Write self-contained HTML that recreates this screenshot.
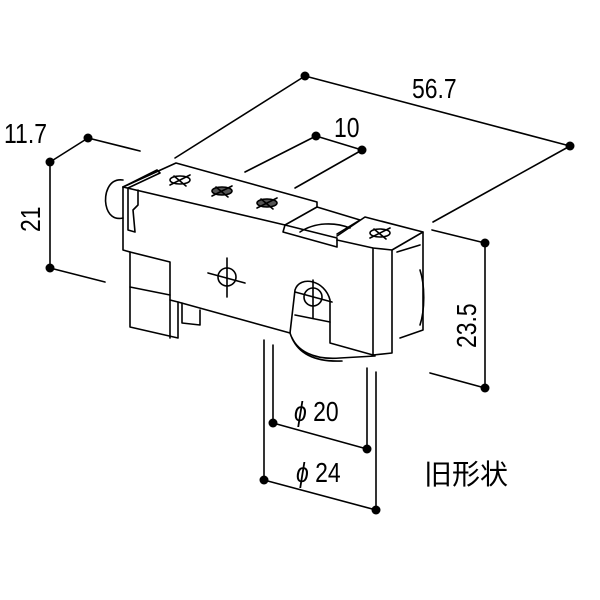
<!DOCTYPE html>
<html><head><meta charset="utf-8"><style>html,body{margin:0;padding:0;background:#fff}svg{display:block}</style></head><body>
<svg width="600" height="600" viewBox="0 0 600 600" xmlns="http://www.w3.org/2000/svg">
<rect width="600" height="600" fill="#fff"/>
<g stroke="#000" stroke-width="1.6" fill="none" stroke-linecap="round" stroke-linejoin="round">
<line x1="305" y1="76" x2="570" y2="146"/>
<line x1="305" y1="76" x2="175" y2="158"/>
<line x1="570" y1="146" x2="433" y2="222"/>
<line x1="316" y1="136" x2="362" y2="150"/>
<line x1="316" y1="136" x2="245" y2="172"/>
<line x1="362" y1="150" x2="295" y2="188"/>
<line x1="50" y1="162" x2="88" y2="138"/>
<line x1="88" y1="138" x2="140" y2="151"/>
<line x1="50" y1="162" x2="50" y2="268"/>
<line x1="50" y1="268" x2="105" y2="282"/>
<line x1="485" y1="243" x2="485" y2="388"/>
<line x1="485" y1="243" x2="432" y2="230"/>
<line x1="485" y1="388" x2="430" y2="373"/>
<line x1="273" y1="345" x2="273" y2="423"/>
<line x1="367" y1="368" x2="367" y2="449"/>
<line x1="273" y1="423" x2="367" y2="449"/>
<line x1="264" y1="340" x2="264" y2="480"/>
<line x1="376" y1="372" x2="376" y2="510"/>
<line x1="264" y1="480" x2="376" y2="510"/>
<path d="M123,180 C108,178 104,195 106,205 C108,215 114,220 123,218"/>
<path d="M123,187 L176,163 L317,202 L317,207"/>
<path d="M123,187 L285,225"/>
<path d="M123,187 L157,170 L160,173 L128,188"/>
<path d="M128,188 L128,230 L135,232 L133,210 L138,205 L138,190"/>
<path d="M285,225 L317,207 L360,220 L337,234"/>
<path d="M285,225 L283,232 L337,247 L337,238 L285,225"/>
<path d="M300,232 C315,222 335,222 350,228"/>
<path d="M337,236 L365,217 L423,232 L392,250 L373,248 L337,240"/>
<path d="M392,250 L392,353 L373,355 L373,248"/>
<path d="M423,232 L423,330 L400,338"/>
<path d="M397,252 L420,245"/>
<path d="M420,270 C425,285 425,310 420,325"/>
<path d="M123,187 L123,250 L130,252 L130,327 L178,338 L178,302 L290,333"/>
<path d="M130,252 L170,262 L170,338"/>
<path d="M130,287 L170,295"/>
<path d="M170,300 L178,302"/>
<path d="M182,303 L182,323 L200,325 L200,310"/>
<path d="M290,333 L295,290 C300,275 325,280 330,300 L330,343 L373,355"/>
<path d="M295,315 L330,322"/>
<path d="M290,333 C296,352 315,360 340,358 L375,356"/>
<path d="M292,338 C300,356 318,362 342,361"/>
<g transform="translate(180,180)"><ellipse rx="10" ry="4"/><line x1="-10" y1="5" x2="10" y2="-5"/><line x1="-6" y1="-4" x2="6" y2="6"/></g>
<g transform="translate(222,191)"><ellipse rx="10" ry="4" fill="#555"/><line x1="-10" y1="5" x2="10" y2="-5"/><line x1="-6" y1="-4" x2="6" y2="6"/></g>
<g transform="translate(267,203)"><ellipse rx="10" ry="4" fill="#555"/><line x1="-10" y1="5" x2="10" y2="-5"/><line x1="-6" y1="-4" x2="6" y2="6"/></g>
<g transform="translate(380,233)"><ellipse rx="10" ry="4"/><line x1="-10" y1="5" x2="10" y2="-5"/><line x1="-6" y1="-4" x2="6" y2="6"/></g>
<circle cx="227" cy="277" r="9"/><line x1="227" y1="258" x2="227" y2="297"/><line x1="208" y1="273" x2="245" y2="283"/>
<circle cx="313" cy="297" r="9"/><line x1="313" y1="280" x2="313" y2="318"/><line x1="295" y1="292" x2="332" y2="302"/>
</g>
<g fill="#000">
<circle cx="305" cy="76" r="4.5"/><circle cx="570" cy="146" r="4.5"/>
<circle cx="316" cy="136" r="4.5"/><circle cx="362" cy="150" r="4.5"/>
<circle cx="88" cy="138" r="4.5"/><circle cx="50" cy="162" r="4.5"/><circle cx="50" cy="268" r="4.5"/>
<circle cx="485" cy="243" r="4.5"/><circle cx="485" cy="388" r="4.5"/>
<circle cx="273" cy="423" r="4.5"/><circle cx="367" cy="449" r="4.5"/>
<circle cx="264" cy="480" r="4.5"/><circle cx="376" cy="510" r="4.5"/>
</g>
<g font-family="Liberation Sans, sans-serif" font-size="28" fill="#000">
<text transform="translate(412,98) scale(0.82,1)">56.7</text>
<text transform="translate(334,137) scale(0.82,1)">10</text>
<text transform="translate(4,143) scale(0.82,1)">11.7</text>
<text transform="translate(40,232) rotate(-90) scale(0.82,1)">21</text>
<text transform="translate(476,348) rotate(-90) scale(0.82,1)">23.5</text>
<text transform="translate(294,421) scale(0.82,1)"><tspan font-style="italic">ϕ</tspan> 20</text>
<text transform="translate(296,482) scale(0.82,1)"><tspan font-style="italic">ϕ</tspan> 24</text>
<text x="424" y="484" font-family="Liberation Sans, Noto Sans CJK JP, sans-serif" font-size="28">旧形状</text>
</g>
</svg>
</body></html>
